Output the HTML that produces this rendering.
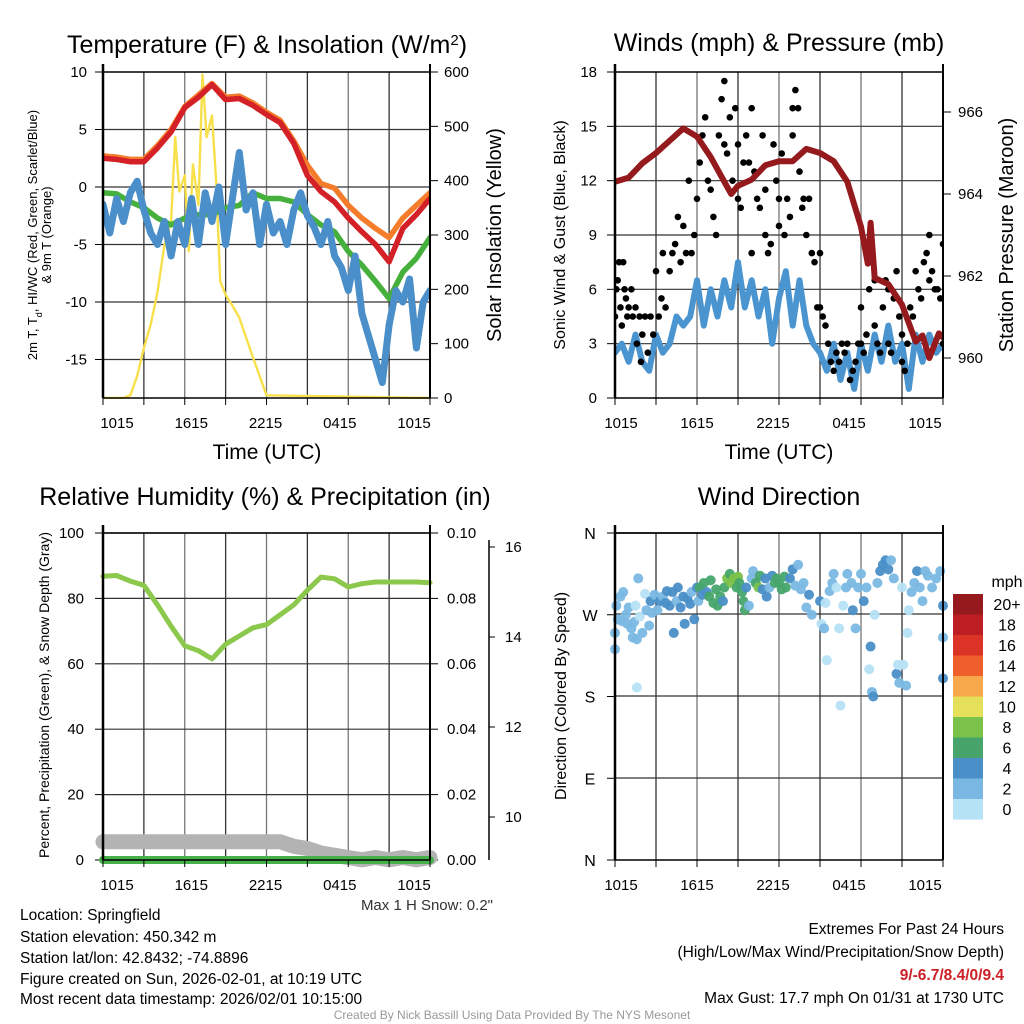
<!DOCTYPE html>
<html><head><meta charset="utf-8"><style>
html,body{margin:0;padding:0;background:#fff}
svg{display:block;font-family:"Liberation Sans",sans-serif}
</style></head><body>
<svg id="fig" width="1024" height="1024" viewBox="0 0 1024 1024" xmlns="http://www.w3.org/2000/svg">
<defs>
<clipPath id="cT"><rect x="103" y="72" width="327" height="327"/></clipPath>
<clipPath id="cW"><rect x="615" y="72" width="328" height="327"/></clipPath>
<clipPath id="cR"><rect x="95" y="525" width="345" height="345"/></clipPath>
</defs>
<g id="g"></g>
<text x="267" y="53" font-size="25" text-anchor="middle">Temperature (F) &amp; Insolation (W/m<tspan baseline-shift="super" font-size="15">2</tspan>)</text>
<text x="779" y="51" font-size="25" text-anchor="middle">Winds (mph) &amp; Pressure (mb)</text>
<text x="265" y="505" font-size="25" text-anchor="middle">Relative Humidity (%) &amp; Precipitation (in)</text>
<text x="779" y="505" font-size="25" text-anchor="middle">Wind Direction</text>
<text x="267" y="459" font-size="21" text-anchor="middle">Time (UTC)</text>
<text x="779" y="459" font-size="21" text-anchor="middle">Time (UTC)</text>
<text transform="translate(37,235) rotate(-90)" font-size="13" text-anchor="middle">2m T, T<tspan baseline-shift="sub" font-size="9">d</tspan>, HI/WC (Red, Green, Scarlet/Blue)</text>
<text transform="translate(51,235) rotate(-90)" font-size="13" text-anchor="middle">&amp; 9m T (Orange)</text>
<text transform="translate(501,235) rotate(-90)" font-size="20" text-anchor="middle">Solar Insolation (Yellow)</text>
<text transform="translate(565,235) rotate(-90)" font-size="16" text-anchor="middle">Sonic Wind &amp; Gust (Blue, Black)</text>
<text transform="translate(1013,235) rotate(-90)" font-size="20" text-anchor="middle">Station Pressure (Maroon)</text>
<text transform="translate(49,695) rotate(-90)" font-size="14" text-anchor="middle">Percent, Precipitation (Green), &amp; Snow Depth (Gray)</text>
<text transform="translate(566,696) rotate(-90)" font-size="16" text-anchor="middle">Direction (Colored By Speed)</text>
<text x="493" y="910" font-size="15" text-anchor="end" fill="#333">Max 1 H Snow: 0.2"</text>
<g font-size="15.5">
<text x="20" y="920">Location: Springfield</text>
<text x="20" y="942">Station elevation: 450.342 m</text>
<text x="20" y="963">Station lat/lon: 42.8432; -74.8896</text>
<text x="20" y="984">Figure created on Sun, 2026-02-01, at 10:19 UTC</text>
<text x="20" y="1004">Most recent data timestamp: 2026/02/01 10:15:00</text>
</g>
<g font-size="15.5" text-anchor="end">
<text x="1004" y="934">Extremes For Past 24 Hours</text>
<text x="1004" y="957">(High/Low/Max Wind/Precipitation/Snow Depth)</text>
<text x="1004" y="980" fill="#cc2027" font-weight="bold">9/-6.7/8.4/0/9.4</text>
<text x="1004" y="1003">Max Gust: 17.7 mph On 01/31 at 1730 UTC</text>
</g>
<text x="512" y="1019" font-size="12" fill="#999" text-anchor="middle">Created By Nick Bassill Using Data Provided By The NYS Mesonet</text>
</svg>
<script>
// ---- data (hours since 1015 UTC) ----
const hours = [0,1,2,3,4,5,6,7,8,9,10,11,12,13,14,15,16,17,18,19,20,21,22,23,24];
const tempRed = [2.5,2.4,2.2,2.2,3.4,4.8,6.9,7.8,8.9,7.6,7.7,7.1,6.3,5.6,3.8,1.0,-0.4,-1.3,-2.7,-3.9,-5.0,-6.5,-3.6,-2.4,-1.0];
const temp9m = [2.7,2.6,2.4,2.4,3.6,5.0,7.0,8.0,9.0,7.8,7.9,7.3,6.5,5.8,4.0,1.9,0.3,-0.1,-1.6,-2.7,-3.6,-4.4,-2.7,-1.6,-0.5];
const dewpoint = [-0.5,-0.6,-1.3,-1.8,-2.7,-3.3,-2.7,-2.4,-2.4,-1.8,-1.6,-0.5,-1.0,-1.0,-1.3,-2.4,-3.3,-3.9,-5.6,-6.8,-8.2,-9.7,-7.4,-6.2,-4.4];
const halfHours = [0,0.5,1,1.5,2,2.5,3,3.5,4,4.5,5,5.5,6,6.5,7,7.5,8,8.5,9,9.5,10,10.5,11,11.5,12,12.5,13,13.5,14,14.5,15,15.5,16,16.5,17,17.5,18,18.5,19,19.5,20,20.5,21,21.5,22,22.5,23,23.5,24];
const windChill = [-1.5,-4,-1,-3,-0.5,0.5,-2,-4,-5,-3,-6,-3,-5,-1,-5,-0.5,-3,0,-5,-1,3,-2,-0.5,-5,-1.5,-4,-3,-5,-2,-0.5,-2.5,-3.5,-5,-3,-6,-7,-9,-6,-11,-13,-15,-17,-12,-9,-10,-8,-14,-10,-9];
const solarHours = [0,1.5,2,2.5,3,3.5,4,4.5,5,5.3,5.6,6,6.3,6.6,7,7.3,7.6,8,8.3,8.6,9,9.5,10,11,12,24];
const solar = [0,0,5,40,92,135,195,280,325,480,380,410,270,430,355,595,480,520,400,215,190,170,148,75,5,0];
const pressHours = [0,1,2,3,4,5,6,7,8,8.5,9,10,11,12,13,14,15,16,17,18,18.5,18.7,19,20,21,22,22.5,23,23.7,24];
const pressure = [964.3,964.4,964.75,965.0,965.3,965.6,965.4,964.9,964.3,964.0,964.2,964.35,964.7,964.8,964.8,965.1,965.0,964.8,964.3,963.2,962.3,963.3,961.95,961.8,961.3,960.4,960.55,960.0,960.6,960.5];
const sonicWind = [2.5,3,2,3.5,2,1.5,3.5,2.5,3,4.5,4,4.5,6.5,4,6,4.5,6.5,5,7.5,5,6.5,4.5,6,3,5.5,7,4,6.5,4,3,2.5,1.5,3,1,2.5,0.5,3,1.5,3.5,2,4,2,3,0.5,3.5,2,3.5,2.5,3];
const gustHours = [0,0.1,0.2,0.3,0.4,0.5,0.6,0.7,0.8,0.9,1,1.2,1.3,1.5,1.6,1.8,1.9,2,2.2,2.4,2.6,2.8,3,3.2,3.4,3.5,3.7,4,4.2,4.4,4.6,4.8,5,5.2,5.4,5.6,5.8,6,6.2,6.4,6.6,6.8,7,7.2,7.4,7.6,7.8,8,8,8.2,8.4,8.6,8.8,9,9,9.2,9.4,9.6,9.8,10,10,10.2,10.4,10.6,10.8,11,11,11.2,11.4,11.6,11.8,12,12,12.2,12.4,12.6,12.8,13,13,13.2,13.4,13.5,13.7,13.8,14,14.2,14.4,14.6,14.8,15,15,15.2,15.4,15.6,15.8,16,16.2,16.4,16.6,16.8,17,17.2,17.4,17.6,17.8,18,18,18.2,18.4,18.6,18.8,19,19,19.2,19.4,19.6,19.8,20,20,20.2,20.4,20.6,20.8,21,21,21.2,21.4,21.6,21.8,22,22.2,22.4,22.6,22.8,23,23,23.2,23.4,23.6,23.8,24,24];
const gusts = [4.5,6,6.5,7.5,5,4,7.5,6,5.5,4.5,5,6,4.5,5,3,4.5,2,3.5,4.5,2.5,4.5,3.5,7,4.5,5.5,8,5,7,8,8.5,10,7.5,9.5,8,12,8,9,11,13,14.5,15.5,12,11.5,10,9,14.5,16.5,17.5,14,13.5,15.5,12,16,14,11,10.5,13,14.5,13,16,8,12.5,11,10.5,14.5,9,11.5,8,8.5,14,12,11,9.5,13.5,9,11,10,14.5,16,17,16,12.5,10.5,11,9,11,8,7.5,5,8,5,4.5,4,3,2,1.5,2.5,2,3,2.5,3,1,1.5,2,3,5,3,2.5,3.5,6,7.5,6.5,4,3,2.5,5,6.5,6,3,2.5,5.5,7,4.5,3.5,2,1.5,3,5,4.5,7,6,5.5,7.5,8,9,6.5,7,6,6,5.5,8.5,3];
const rh = [86.8,87,85.3,84,78,71.5,65.5,64,61.5,66,68.5,71,72,75,78,82.5,86.5,86,83.5,84.5,85,85,85,85,84.8];
const snowDepth = [9.45,9.45,9.45,9.45,9.45,9.45,9.45,9.45,9.45,9.45,9.45,9.45,9.45,9.45,9.35,9.3,9.2,9.15,9.1,9.05,9.1,9.05,9.1,9.05,9.1];
const precip = [0,0,0,0,0,0,0,0,0,0,0,0,0,0,0,0,0,0,0,0,0,0,0,0,0];
const dirHours = [0,0,0.1,0.2,0.4,0.5,0.6,0.8,0.9,1.0,1.2,1.3,1.4,1.5,1.6,1.6,1.7,1.8,2.0,2.2,2.3,2.5,2.6,2.7,2.9,3.1,3.3,3.5,3.7,3.8,4.0,4.2,4.3,4.5,4.6,4.8,5.0,5.1,5.3,5.5,5.6,5.8,6.0,6.1,6.2,6.4,6.5,6.7,6.9,7.0,7.2,7.4,7.5,7.7,7.9,8.0,8.2,8.4,8.5,8.7,8.9,9.0,9.1,9.3,9.4,9.5,9.6,9.8,10.0,10.1,10.3,10.5,10.6,10.8,11.0,11.1,11.3,11.5,11.7,11.8,12.0,12.2,12.4,12.5,12.8,13.0,13.2,13.4,13.6,13.8,14.0,14.2,14.4,15.0,15.1,15.3,15.4,15.5,15.7,15.9,16.0,16.2,16.4,16.5,16.7,16.9,17.0,17.3,17.4,17.6,17.8,18.0,18.2,18.4,18.6,18.7,18.8,18.9,19.0,19.2,19.4,19.6,19.8,20.0,20.2,20.4,20.6,20.7,20.8,21.0,21.1,21.3,21.4,21.5,21.7,21.9,22.1,22.3,22.5,22.7,22.9,23.2,23.5,23.8,24.0,24.0,24.0];
const dirDeg = [232,250,280,265,290,263,295,270,260,278,255,245,262,280,243,190,310,268,250,293,275,258,285,272,292,275,285,290,283,296,280,295,250,285,300,278,290,260,288,282,295,265,300,285,300,292,305,295,290,308,283,298,280,290,285,300,310,315,305,310,300,312,305,295,285,275,300,280,310,318,305,300,313,298,310,290,300,313,305,310,305,298,312,300,310,320,302,325,298,305,278,292,270,285,260,255,283,220,296,305,315,300,255,170,280,300,315,305,275,255,300,315,285,300,210,235,185,180,270,305,318,325,330,320,330,310,205,215,195,300,215,192,250,275,295,305,318,300,285,318,313,300,310,318,280,245,200];
const dirSpeed = [2,2,2,2,2,2,2,2,2,2,2,2,2,0,2,0,2,0,2,0,2,2,4,2,2,2,4,2,4,4,4,4,4,2,4,4,4,4,4,4,2,4,4,2,6,4,6,4,6,6,6,6,6,6,4,6,8,6,8,8,6,8,6,6,6,6,4,2,2,2,6,8,6,4,4,4,2,4,6,6,6,6,6,6,4,4,2,2,2,2,2,4,2,4,0,2,0,0,2,2,2,0,0,0,0,2,2,2,4,2,2,2,4,2,0,4,2,4,0,2,4,4,4,4,2,2,4,0,2,0,0,2,0,0,2,2,4,2,2,2,2,2,2,2,4,2,4];
const timeLabels = ["1015","1615","2215","0415","1015"];
const tempTicks = [10,5,0,-5,-10,-15];
const solarTicks = [0,100,200,300,400,500,600];
const windTicks = [0,3,6,9,12,15,18];
const pressTicks = [960,962,964,966];
const rhTicks = [0,20,40,60,80,100];
const precipTicks = ["0.00","0.02","0.04","0.06","0.08","0.10"];
const snowTicks = [10,12,14,16];
const dirTicks = ["N","E","S","W","N"];
const legendLabels = ["20+","18","16","14","12","10","8","6","4","2","0"];
const legendColors = ["#951a1d","#bd1e24","#dc3327","#ef5f2b","#f5a94a","#e5e05a","#7bc24a","#47a56b","#4a8fc7","#7ab8e3","#b6e2f6"];

// ---- scales ----
const XT=t=>103+t*327/24, YT=v=>187-v*11.5, YS=w=>398-w*326/600;
const XW=t=>615+t*328/24, YWs=s=>398-s*326/18, YP=p=>358-(p-960)*41;
const YR=v=>860-v*3.27, YPr=v=>860-v*3270, YSn=s=>817-(s-10)*45;
const YD=d=>860-d*327/360;
const spdColor=s=>legendColors[10-Math.min(10,Math.round(s/2))];

const NS="http://www.w3.org/2000/svg", G=document.getElementById('g');
function el(tag,attrs,parent){const e=document.createElementNS(NS,tag);for(const k in attrs)e.setAttribute(k,attrs[k]);(parent||G).appendChild(e);return e;}
function txt(x,y,s,anchor,size){const e=el('text',{x:x,y:y,'font-size':size||15,'text-anchor':anchor||'middle'});e.textContent=s;return e;}
function line(xs,ys,fx,fy,color,w,clip,name){
  let d='';for(let i=0;i<xs.length;i++)d+=(i?'L':'M')+fx(xs[i]).toFixed(1)+','+fy(ys[i]).toFixed(1);
  const p=el('path',{d:d,fill:'none',stroke:color,'stroke-width':w,'stroke-linejoin':'round','stroke-linecap':'round','clip-path':'url(#'+clip+')'});
  
  
  return p;
}
function grid(x0,x1,y0,y1,ys){
  for(let i=1;i<8;i++){const x=x0+(x1-x0)*i/8;el('line',{x1:x,x2:x,y1:y0,y2:y1,stroke:i%2?'#333':'#777','stroke-width':1.3});}
  ys.forEach(y=>el('line',{x1:x0,x2:x1,y1:y,y2:y,stroke:'#333','stroke-width':1.2}));
}
function frame(x0,x1,y0,y1,name){
  const f=el('g',{});
  
  
  el('line',{x1:x0,x2:x0,y1:y0-8,y2:y1,stroke:'#000','stroke-width':2.5},f);
  el('line',{x1:x1,x2:x1,y1:y0-8,y2:y1,stroke:'#000','stroke-width':2},f);
  el('line',{x1:x0,x2:x1,y1:y0,y2:y0,stroke:'#000','stroke-width':1.5},f);
  el('line',{x1:x0,x2:x1,y1:y1,y2:y1,stroke:'#000','stroke-width':1.5},f);
  for(let i=0;i<=8;i++){const x=x0+(x1-x0)*i/8;el('line',{x1:x,x2:x,y1:y1,y2:y1+7,stroke:'#000','stroke-width':1},f);}
}
function xlabels(x0,x1,y){timeLabels.forEach((s,i)=>{const l=txt(x0+(x1-x0)*i/4,y,s,'middle',15);});}

// ===== Panel 1: temperature =====
grid(103,430,72,398,tempTicks.slice(1).map(YT));
tempTicks.forEach(v=>{el('line',{x1:95,x2:103,y1:YT(v),y2:YT(v),stroke:'#000'});const l=txt(87,YT(v)+5,String(v),'end',15);});
solarTicks.forEach(v=>{el('line',{x1:430,x2:438,y1:YS(v),y2:YS(v),stroke:'#000'});const l=txt(444,YS(v)+5,String(v),'start',15);});
line(solarHours,solar,XT,YS,'#f7e04b',2.4,'cT','solar-insolation-line');
line(hours,dewpoint,XT,YT,'#45b03c',5.5,'cT','dewpoint-line');
line(halfHours,windChill,XT,YT,'#4a8fc9',7,'cT','wind-chill-line');
line(hours,temp9m,XT,YT,'#f47c2a',5.5,'cT','temp-9m-line');
line(hours,tempRed,XT,YT,'#d42027',5.5,'cT','temp-2m-line');
frame(103,430,72,398,'temperature-axes');
xlabels(117,414,428);

// ===== Panel 2: winds =====
grid(615,943,72,398,windTicks.slice(1,-1).map(YWs));
windTicks.forEach(v=>{el('line',{x1:607,x2:615,y1:YWs(v),y2:YWs(v),stroke:'#000'});const l=txt(597,YWs(v)+5,String(v),'end',15);});
pressTicks.forEach(v=>{el('line',{x1:943,x2:951,y1:YP(v),y2:YP(v),stroke:'#000'});const l=txt(958,YP(v)+5,String(v),'start',15);});
line(halfHours,sonicWind,XW,YWs,'#4a94d0',6,'cW','sonic-wind-line');
gustHours.forEach((t,i)=>{const c=el('circle',{cx:XW(t),cy:YWs(gusts[i]),r:3.3,fill:'#000','clip-path':'url(#cW)'});

});
line(pressHours,pressure,XW,YP,'#951a1d',6,'cW','pressure-line');
frame(615,943,72,398,'winds-axes');
xlabels(621,925,428);

// ===== Panel 3: humidity =====
grid(103,430,533,860,rhTicks.slice(1,-1).map(YR).concat([533]));
rhTicks.forEach((v,i)=>{el('line',{x1:95,x2:103,y1:YR(v),y2:YR(v),stroke:'#000'});const l=txt(84,YR(v)+5,String(v),'end',15);
el('line',{x1:430,x2:438,y1:YR(v),y2:YR(v),stroke:'#000'});const r=txt(447,YR(v)+5,precipTicks[i],'start',15);});
el('line',{x1:489,x2:489,y1:540,y2:860,stroke:'#000','stroke-width':1.5});
snowTicks.forEach(v=>{el('line',{x1:489,x2:495,y1:YSn(v),y2:YSn(v),stroke:'#000'});const l=txt(505,YSn(v)+5,String(v),'start',15);});
line(hours,snowDepth,XT,YSn,'#b3b3b3',15,'cR','snow-depth-line');
line(hours,precip,XT,YPr,'#46b04a',8,'cR','precipitation-line');
line(hours,rh,XT,YR,'#8cc84b',5,'cR','humidity-line');
frame(103,430,533,860,'humidity-axes');
xlabels(117,414,890);

// ===== Panel 4: wind direction =====
grid(615,943,533,860,[614,696,778]);
dirTicks.forEach((s,i)=>{const y=YD(i*90);el('line',{x1:607,x2:615,y1:y,y2:y,stroke:'#000'});const l=txt(590,y+6,s,'middle',16);});
el('line',{x1:615,x2:943,y1:533,y2:533,stroke:'#000','stroke-width':1.5});
dirHours.forEach((t,i)=>{const c=el('circle',{cx:XW(t),cy:YD(dirDeg[i]),r:5,fill:spdColor(dirSpeed[i]),opacity:0.95});

});
frame(615,943,533,860,'direction-axes');
xlabels(621,925,890);
const lg=el('g',{});


const mph=txt(1007,587,'mph','middle',16);lg.appendChild(mph);
legendColors.forEach((c,i)=>{const y=594+i*20.5;el('rect',{x:953,y:y,width:30,height:20.6,fill:c},lg);const l=txt(1007,y+16,legendLabels[i],'middle',16);lg.appendChild(l);});
</script>
</body></html>
